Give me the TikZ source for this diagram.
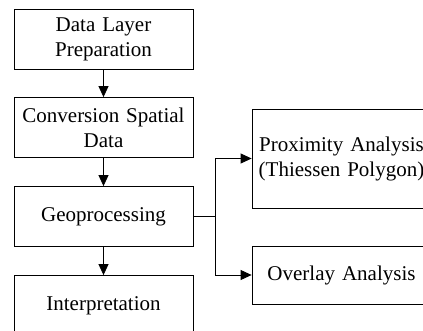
\documentclass[tikz,border=0pt]{standalone}
\usepackage{fontspec}
\setmainfont{Liberation Serif}
\usetikzlibrary{arrows.meta,positioning}
\tikzstyle{process} = [rectangle, minimum width=179pt, minimum height=60pt, text centered, text width=172pt, inner sep=0pt, draw=black, line width=0.8pt, font=\fontsize{21}{25}\selectfont]
\tikzstyle{arrow} = [line width=0.8pt,-{Triangle[length=11pt,width=10pt]}]

\begin{document}
\begin{tikzpicture}[x=1pt,y=1pt]
		\useasboundingbox (0,0) rectangle (423,-331);
		\coordinate (datalayer) at (103.5,-39);
		\coordinate (conversion) at (103.5,-127.5);
		\coordinate (geoproc) at (103.5,-216.5);
		\coordinate (interp) at (103.5,-305.5);
		\coordinate (proximity) at (341.5,-158.5);
		\coordinate (overlay) at (341.5,-275);
		% Main chain
		\node[process, name=datalayer] at (datalayer) {Data Layer\\Preparation};
		\node[process, name=conversion] at (conversion) {Conversion Spatial\\Data};
		\node[process, name=geoproc] at (geoproc) {Geoprocessing};
		\node[process, name=interp] at (interp) {Interpretation};
		% Analysis boxes
		\node[process, name=proximity, minimum height=99pt] at (proximity) {Proximity Analysis\\(Thiessen Polygon)};
		\node[process, name=overlay, minimum height=58pt] at (overlay) {Overlay Analysis};
		\draw [arrow] (datalayer)--(conversion);
		\draw [arrow] (conversion)--(geoproc);
		\draw [arrow] (geoproc)--(interp);
		% Split to the two analyses
		\coordinate (split) at (215,-216.5);
		\draw [line width=0.8pt] (geoproc)--(split);
		\draw [arrow] (split) |- (proximity);
		\draw [arrow] (split) |- (overlay);
		\end{tikzpicture}
\end{document}
